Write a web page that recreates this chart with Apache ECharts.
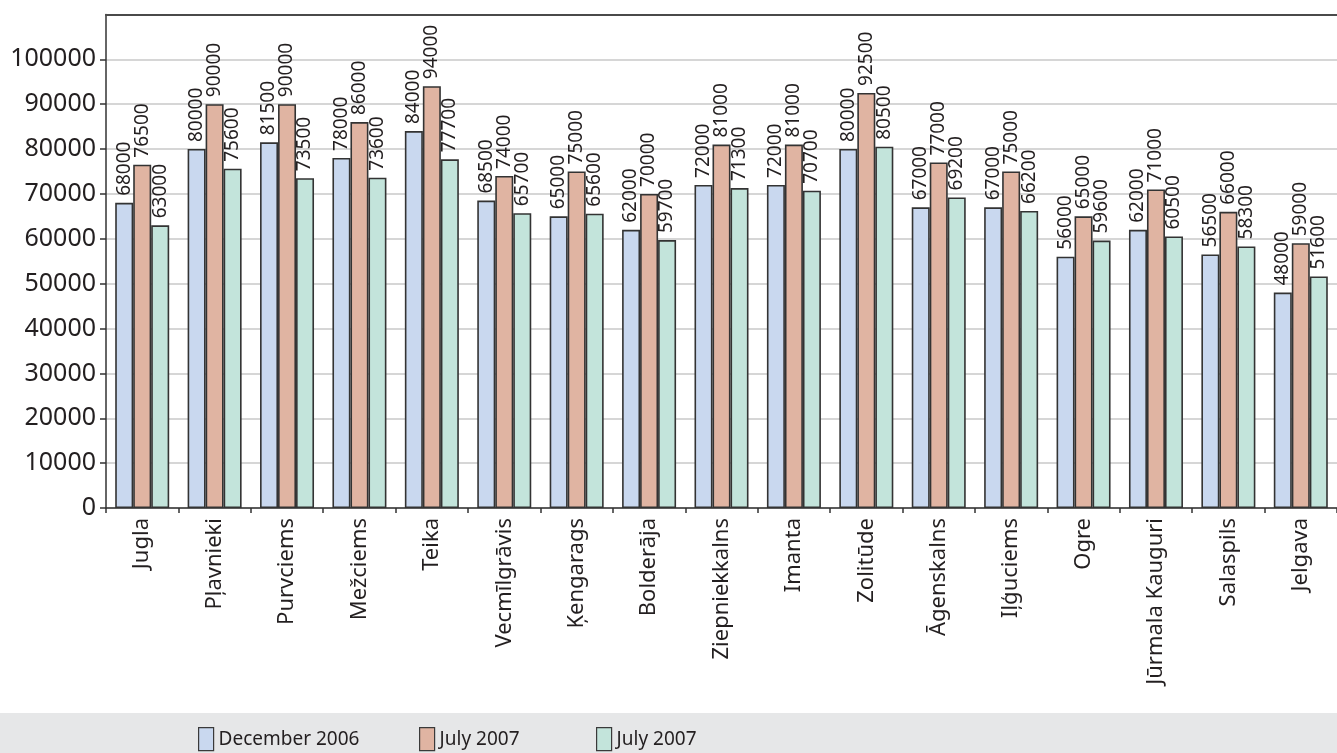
<!DOCTYPE html>
<html>
<head>
<meta charset="utf-8">
<script src="https://cdn.jsdelivr.net/npm/echarts@6/dist/echarts.min.js"></script>
<style>
  html, body { margin: 0; padding: 0; background: #ffffff; }
  #chart { width: 1337px; height: 753px; }
</style>
</head>
<body>
<div id="chart"></div>
<script>
// Average prices by district
const categories = ['Jugla', 'Pļavnieki', 'Purvciems', 'Mežciems', 'Teika', 'Vecmīlgrāvis', 'Ķengarags', 'Bolderāja', 'Ziepniekkalns', 'Imanta', 'Zolitūde', 'Āgenskalns', 'Iļģuciems', 'Ogre', 'Jūrmala Kauguri', 'Salaspils', 'Jelgava'];
const december2006 = [68000, 80000, 81500, 78000, 84000, 68500, 65000, 62000, 72000, 72000, 80000, 67000, 67000, 56000, 62000, 56500, 48000];
const july2007a = [76500, 90000, 90000, 86000, 94000, 74000, 75000, 70000, 81000, 81000, 92500, 77000, 75000, 65000, 71000, 66000, 59000];
const july2007b = [63000, 75600, 73500, 73600, 77700, 65700, 65600, 59700, 71300, 70700, 80500, 69200, 66200, 59600, 60500, 58300, 51600];
const seriesLabels = ['December 2006', 'July 2007', 'July 2007'];
const yTicks = [0, 10000, 20000, 30000, 40000, 50000, 60000, 70000, 80000, 90000, 100000];

const FONT = 'Noto Sans';
const colors = ['#c9d8ef', '#e0b4a2', '#c3e4db'];
const keys = ['s0', 's1', 's2'];
const legendLeft = [198, 419, 596];

function barSeries(i, values) {
  return {
    type: 'bar',
    name: keys[i],
    data: values,
    barWidth: 18,
    barGap: '0%',
    itemStyle: { color: colors[i], borderColor: '#333333', borderWidth: 1.6 },
    label: {
      show: true,
      position: 'top',
      rotate: 90,
      align: 'left',
      verticalAlign: 'middle',
      distance: 7,
      fontFamily: FONT,
      fontSize: 19,
      color: '#231f20'
    },
    emphasis: { disabled: true }
  };
}

const chart = echarts.init(document.getElementById('chart'), null, { renderer: 'canvas' });
chart.setOption({
  animation: false,
  backgroundColor: '#ffffff',
  graphic: [{
    type: 'rect',
    z: -10,
    shape: { x: 0, y: 713, width: 1337, height: 40 },
    style: { fill: '#e6e7e8' }
  }],
  grid: { left: 106, right: -8, top: 14.4, bottom: 245, containLabel: false },
  legend: keys.map((k, i) => ({
    data: [k],
    left: legendLeft[i],
    top: 727,
    padding: 0,
    itemWidth: 15,
    itemHeight: 23,
    itemGap: 7,
    icon: 'rect',
    selectedMode: false,
    formatter: name => seriesLabels[keys.indexOf(name)],
    textStyle: { fontFamily: FONT, fontSize: 19, color: '#231f20', padding: [8, 0, 0, 0] },
    itemStyle: { borderColor: '#3a3a3a', borderWidth: 1.2 }
  })),
  xAxis: [{
    type: 'category',
    data: categories,
    axisLine: { lineStyle: { color: '#333333', width: 1.5 } },
    axisTick: { show: true, length: 5, lineStyle: { color: '#333333', width: 1.5 } },
    axisLabel: { rotate: 90, margin: 10, fontFamily: FONT, fontSize: 22, color: '#231f20', interval: 0 }
  }, {
    type: 'category',
    position: 'top',
    data: categories,
    axisLine: { lineStyle: { color: '#4a4a4a', width: 2 } },
    axisTick: { show: false },
    axisLabel: { show: false }
  }],
  yAxis: {
    type: 'value',
    min: 0,
    max: 110000,
    interval: 10000,
    axisLine: { show: true, lineStyle: { color: '#333333', width: 1.5 } },
    axisTick: { show: true, length: 6, customValues: yTicks, lineStyle: { color: '#333333', width: 1.5 } },
    axisLabel: {
      customValues: yTicks,
      formatter: v => String(v),
      margin: 10,
      fontFamily: FONT,
      fontSize: 25,
      color: '#231f20'
    },
    splitLine: { show: true, lineStyle: { color: '#c8c8c8', width: 1.5 } }
  },
  series: [
    barSeries(0, december2006),
    barSeries(1, july2007a),
    barSeries(2, july2007b)
  ]
});
</script>
</body>
</html>
